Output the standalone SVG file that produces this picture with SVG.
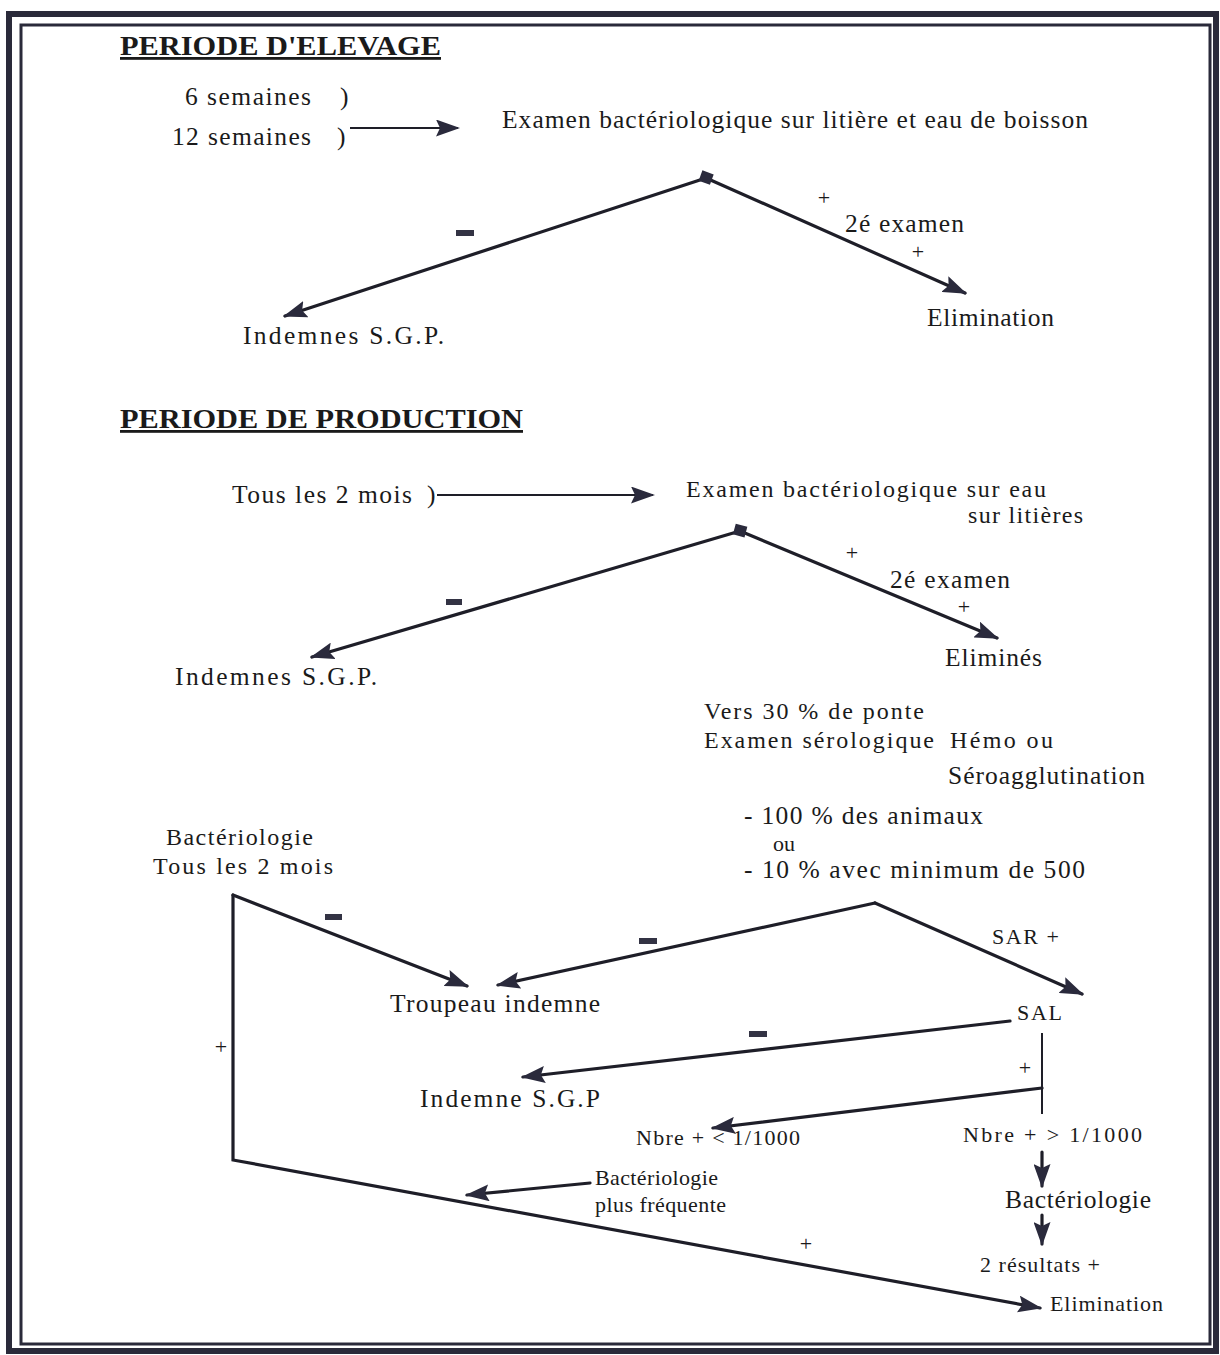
<svg xmlns="http://www.w3.org/2000/svg" width="1220" height="1355" viewBox="0 0 1220 1355">
<style>
text{font-family:"Liberation Serif","Times New Roman",serif;fill:#1a1a1a;font-size:25.5px}
.t{font-size:24px}
.h{font-weight:bold;font-size:28px;text-decoration:underline}
.s{font-size:22px}
.ln{fill:none;stroke:#1e1e28;stroke-width:3.2;stroke-linecap:round}
.thin{fill:none;stroke:#1e1e28;stroke-width:2}
.minus{fill:#333344}
</style>
<defs>
<marker id="ah" viewBox="0 0 24 17" refX="22" refY="8.5" markerWidth="24" markerHeight="17" markerUnits="userSpaceOnUse" orient="auto">
<path d="M0,0 L24,8.5 L0,17 L4,8.5 z" fill="#2a2a3c"/>
</marker>
</defs>
<rect width="1220" height="1355" fill="#fff"/>
<g id="frame">
<rect x="9" y="14" width="1207" height="1337" fill="none" stroke="#2a2a3a" stroke-width="6"/>
<rect x="21" y="25" width="1189" height="1319" fill="none" stroke="#2a2a3a" stroke-width="3"/>
</g>
<g id="connectors">
<line class="thin" x1="350" y1="128" x2="458" y2="128" marker-end="url(#ah)"/>
<line class="ln" x1="706" y1="178" x2="285" y2="316" marker-end="url(#ah)"/>
<line class="ln" x1="706" y1="178" x2="965" y2="293" marker-end="url(#ah)"/>
<line class="thin" x1="437" y1="495" x2="653" y2="495" marker-end="url(#ah)"/>
<line class="ln" x1="740" y1="531" x2="312" y2="657" marker-end="url(#ah)"/>
<line class="ln" x1="740" y1="531" x2="997" y2="638" marker-end="url(#ah)"/>
<line class="ln" x1="233" y1="895" x2="467" y2="986" marker-end="url(#ah)"/>
<polyline class="ln" points="233,895 233,1160 1040,1308" marker-end="url(#ah)"/>
<line class="ln" x1="875" y1="903" x2="498" y2="985" marker-end="url(#ah)"/>
<line class="ln" x1="875" y1="903" x2="1082" y2="994" marker-end="url(#ah)"/>
<line class="ln" x1="1010" y1="1021" x2="523" y2="1077" marker-end="url(#ah)"/>
<line class="thin" x1="1042" y1="1033" x2="1042" y2="1114"/>
<line class="ln" x1="1042" y1="1088" x2="713" y2="1128" marker-end="url(#ah)"/>
<line class="ln" x1="1042" y1="1152" x2="1042" y2="1186" marker-end="url(#ah)"/>
<line class="ln" x1="1042" y1="1215" x2="1042" y2="1244" marker-end="url(#ah)"/>
<line class="ln" x1="590" y1="1183" x2="467" y2="1195" marker-end="url(#ah)"/>
<rect x="700" y="172" width="12" height="11" fill="#2a2a3c" transform="rotate(20 706 178)"/>
<rect x="734" y="525" width="12" height="11" fill="#2a2a3c" transform="rotate(15 740 531)"/>
</g>
<g id="labels">
<rect class="minus" x="456" y="230" width="18" height="6"/>
<rect class="minus" x="446" y="599" width="16" height="6"/>
<rect class="minus" x="325" y="914" width="17" height="6"/>
<rect class="minus" x="639" y="938" width="18" height="6"/>
<rect class="minus" x="749" y="1031" width="18" height="6"/>
<text x="824" y="205" text-anchor="middle" class="s">+</text>
<text x="918" y="259" text-anchor="middle" class="s">+</text>
<text x="852" y="560" text-anchor="middle" class="s">+</text>
<text x="964" y="614" text-anchor="middle" class="s">+</text>
<text x="221" y="1054" text-anchor="middle" class="s">+</text>
<text x="1025" y="1075" text-anchor="middle" class="s">+</text>
<text x="806" y="1251" text-anchor="middle" class="s">+</text>
</g>
<g id="elevage">
<text class="h" x="120" y="55" textLength="321" lengthAdjust="spacingAndGlyphs">PERIODE D'ELEVAGE</text>
<text x="185" y="105" textLength="126">6 semaines</text><text x="340" y="105">)</text>
<text x="172" y="145" textLength="139">12 semaines</text><text x="337" y="145">)</text>
<text x="502" y="128" textLength="586">Examen bactériologique sur litière et eau de boisson</text>
<text x="845" y="232" textLength="119">2é examen</text>
<text x="243" y="344" textLength="201">Indemnes S.G.P.</text>
<text x="927" y="326" textLength="127">Elimination</text>
</g>
<g id="production">
<text class="h" x="120" y="428" textLength="403" lengthAdjust="spacingAndGlyphs">PERIODE DE PRODUCTION</text>
<text x="232" y="503" textLength="180">Tous les 2 mois</text><text x="427" y="503">)</text>
<text x="686" y="497" class="t" textLength="360">Examen bactériologique sur eau</text>
<text x="968" y="523" class="t" textLength="115">sur litières</text>
<text x="890" y="588" textLength="120">2é examen</text>
<text x="175" y="685" textLength="202">Indemnes S.G.P.</text>
<text x="945" y="666" textLength="97">Eliminés</text>
</g>
<g id="serologie">
<text x="704" y="719" class="t" textLength="220">Vers 30 % de ponte</text>
<text x="704" y="748" class="t" textLength="230">Examen sérologique</text>
<text x="950" y="748" class="t" textLength="103">Hémo ou</text>
<text x="948" y="784" textLength="197">Séroagglutination</text>
<text x="744" y="824" textLength="239">- 100 % des animaux</text>
<text x="773" y="851" class="s">ou</text>
<text x="744" y="878" textLength="341">-  10 % avec minimum de 500</text>
</g>
<g id="bacterio-left">
<text x="166" y="845" class="t" textLength="147">Bactériologie</text>
<text x="153" y="874" class="t" textLength="180">Tous les 2 mois</text>
</g>
<g id="troupeau"><text x="390" y="1012" textLength="210">Troupeau indemne</text></g>
<g id="sar"><text x="992" y="944" class="s" textLength="67">SAR +</text></g>
<g id="sal"><text x="1017" y="1020" class="s" textLength="45">SAL</text></g>
<g id="indemne-sgp"><text x="420" y="1107" textLength="180">Indemne S.G.P</text></g>
<g id="nbre-low"><text x="636" y="1145" class="s" textLength="164">Nbre + &lt; 1/1000</text></g>
<g id="nbre-high"><text x="963" y="1142" class="s" textLength="179">Nbre   + &gt; 1/1000</text></g>
<g id="bacterio-right"><text x="1005" y="1208" textLength="146">Bactériologie</text></g>
<g id="resultats"><text x="980" y="1272" class="s" textLength="120">2 résultats +</text></g>
<g id="elimination2"><text x="1050" y="1311" class="s" textLength="113">Elimination</text></g>
<g id="bacterio-freq">
<text x="595" y="1185" class="s" textLength="123">Bactériologie</text>
<text x="595" y="1212" class="s" textLength="131">plus fréquente</text>
</g>
</svg>
